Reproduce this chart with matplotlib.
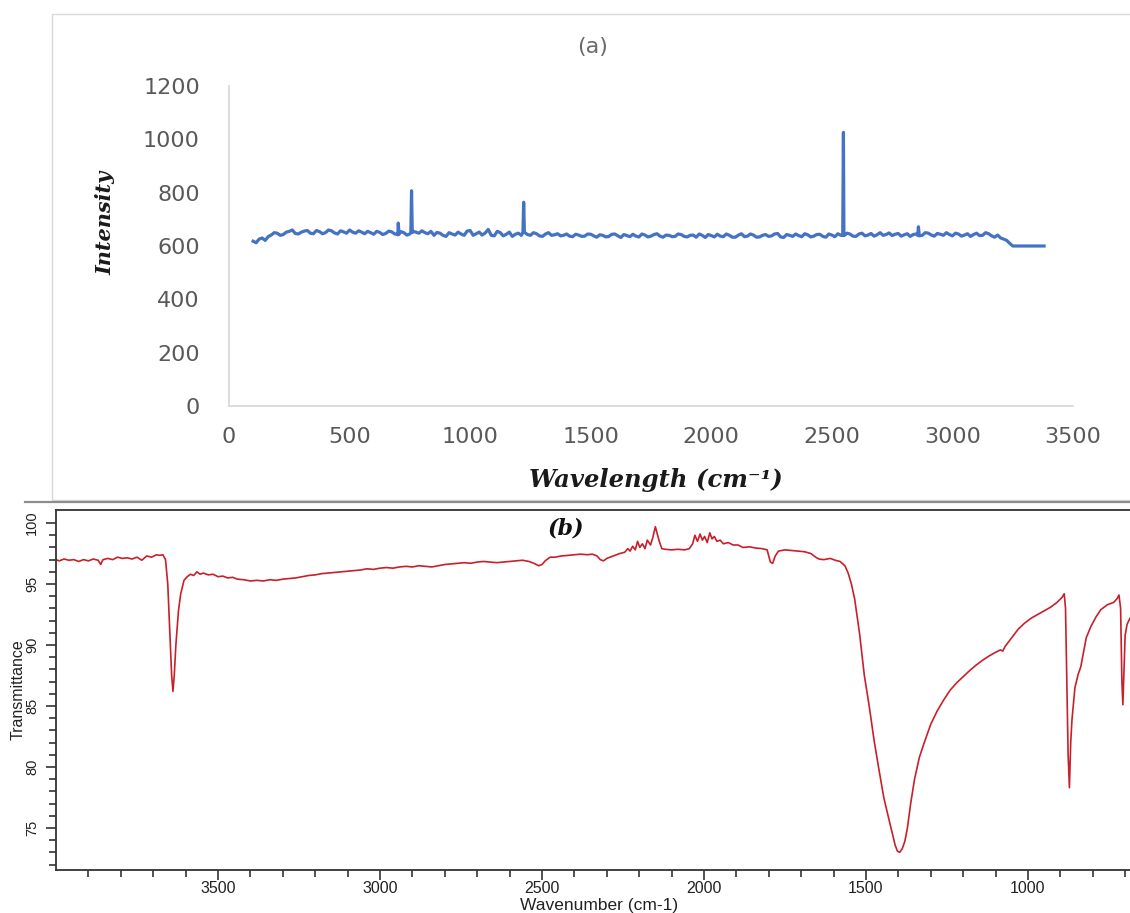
import numpy as np
import matplotlib
matplotlib.use("Agg")
import matplotlib.pyplot as plt
from matplotlib.patches import Rectangle
from matplotlib.lines import Line2D

# ---- (a) Raman-type spectrum ----
# values every 25 cm-1 starting at 100
raman_base = [618, 626, 621, 641, 648, 643, 655, 647, 652, 658,
              646, 654, 650, 657, 645, 653, 660, 648, 652, 655,
              644, 651, 647, 653, 642, 650, 645, 652, 657, 646,
              640, 648, 636, 645, 652, 640, 658, 646, 641, 662,
              638, 650, 644, 636, 648, 655, 640, 646, 636, 650,
              642, 638, 645, 635, 641, 637, 644, 633, 640, 636,
              645, 632, 639, 644, 634, 641, 637, 646, 633, 640,
              636, 643, 634, 641, 645, 632, 639, 644, 635, 640,
              633, 646, 637, 641, 634, 643, 638, 647, 632, 640,
              645, 635, 642, 637, 644, 633, 641, 646, 639, 645,
              636, 648, 641, 637, 650, 643, 639, 647, 642, 636,
              645, 640, 648, 637, 644, 650, 638, 645, 641, 636,
              648, 640, 646, 633, 630, 621]
# values half way between (112.5, 137.5, ...)
raman_mid = [612, 630, 635, 650, 640, 652, 660, 645, 656, 648,
             658, 646, 660, 649, 657, 648, 652, 657, 646, 650,
             655, 643, 656, 645, 654, 641, 655, 648, 650, 655,
             651, 640, 650, 641, 645, 656, 640, 652, 649, 640,
             655, 638, 652, 644, 640, 643, 650, 638, 645, 640,
             646, 640, 637, 644, 636, 645, 638, 642, 634, 644,
             638, 643, 635, 637, 645, 634, 643, 637, 641, 635,
             645, 636, 640, 633, 640, 643, 634, 637, 645, 633,
             641, 635, 645, 633, 640, 636, 645, 634, 643, 636,
             639, 646, 634, 643, 636, 645, 635, 640, 648, 637,
             645, 638, 647, 642, 640, 649, 644, 637, 646, 643,
             638, 650, 641, 647, 640, 643, 648, 637, 646, 643,
             639, 650, 638, 641, 626, 610]
raman_start, raman_step = 100, 25
spike_pos = [702, 757, 1222, 2548, 2859]
spike_val = [686, 807, 764, 1026, 672]
tail_pos = [3250, 3380]
tail_val = [600, 600]

# ---- (b) FTIR transmittance ----
ir_wn = [4000, 3990, 3975, 3960, 3945, 3930, 3915, 3900, 3885, 3870,
         3862, 3855, 3840, 3825, 3810, 3795, 3780, 3765, 3750, 3735,
         3720, 3705, 3690, 3680, 3670, 3662, 3655, 3648, 3643, 3639,
         3635, 3630, 3622, 3615, 3605, 3595, 3585, 3575, 3565, 3555,
         3545, 3530, 3515, 3500, 3485, 3470, 3455, 3440, 3420, 3400,
         3380, 3360, 3340, 3320, 3300, 3280, 3260, 3240, 3220, 3200,
         3180, 3160, 3140, 3120, 3100, 3080, 3060, 3040, 3020, 3000,
         2980, 2960, 2940, 2920, 2900, 2880, 2860, 2840, 2820, 2800,
         2780, 2760, 2740, 2720, 2700, 2680, 2660, 2640, 2620, 2600,
         2580, 2560, 2540, 2525, 2510, 2500, 2490, 2475, 2460, 2440,
         2420, 2400, 2380, 2360, 2345, 2330, 2320, 2310, 2300, 2280,
         2260, 2245, 2235, 2228, 2220, 2212, 2205, 2198, 2190, 2182,
         2175, 2165, 2158, 2150, 2145, 2138, 2130, 2120, 2100, 2080,
         2060, 2045, 2035, 2028, 2020, 2012, 2005, 1998, 1990, 1982,
         1975, 1968, 1960, 1950, 1940, 1925, 1910, 1895, 1880, 1860,
         1840, 1820, 1805, 1795, 1788, 1780, 1770, 1750, 1730, 1710,
         1690, 1670, 1655, 1645, 1630, 1610, 1595, 1580, 1565, 1555,
         1545, 1535, 1520, 1505, 1490, 1475, 1460, 1445, 1430, 1418,
         1410, 1403, 1396, 1388, 1380, 1372, 1362, 1350, 1335, 1320,
         1300, 1280, 1260, 1240, 1220, 1200, 1180, 1160, 1140, 1120,
         1100, 1085, 1078, 1070, 1050, 1030, 1010, 990, 970, 950,
         930, 910, 895, 888, 884, 880, 876, 872, 868, 864,
         855, 845, 837, 820, 806, 790, 775, 755, 735, 725,
         719, 714, 710, 707, 704, 700, 694, 685, 680]
ir_t = [97.0, 96.9, 97.05, 96.95, 97.0, 96.85, 97.0, 96.9, 97.05, 96.95,
        96.6, 97.0, 97.1, 97.0, 97.2, 97.1, 97.15, 97.05, 97.2, 96.95,
        97.3, 97.2, 97.4, 97.35, 97.4, 97.0, 95.0, 90.5, 87.5, 86.2,
        87.5, 90.0, 92.8, 94.2, 95.3, 95.6, 95.8, 95.7, 96.0, 95.8,
        95.9, 95.75, 95.8, 95.6, 95.65, 95.5, 95.55, 95.4, 95.35, 95.25,
        95.3, 95.25, 95.35, 95.3, 95.4, 95.45, 95.5, 95.6, 95.7, 95.75,
        95.85, 95.9, 95.95, 96.0, 96.05, 96.1, 96.15, 96.25, 96.2, 96.3,
        96.35, 96.3, 96.4, 96.45, 96.4, 96.5, 96.45, 96.4, 96.5, 96.6,
        96.65, 96.7, 96.75, 96.7, 96.8, 96.85, 96.8, 96.75, 96.8, 96.85,
        96.9, 96.95, 96.85, 96.7, 96.5, 96.6, 96.9, 97.2, 97.2, 97.3,
        97.35, 97.4, 97.45, 97.4, 97.45, 97.3, 97.0, 96.9, 97.1, 97.3,
        97.5, 97.6, 97.9, 97.7, 98.1, 97.8, 98.5, 98.0, 98.3, 97.9,
        98.6, 98.2, 98.8, 99.7, 99.2, 98.5, 97.9, 97.85, 97.8, 97.85,
        97.8, 97.9, 98.3, 99.0, 98.5, 99.1, 98.6, 98.9, 98.4, 99.2,
        98.7, 98.9, 98.5, 98.6, 98.3, 98.4, 98.2, 98.2, 98.0, 98.05,
        97.95, 97.9, 97.8, 96.8, 96.7, 97.3, 97.7, 97.8, 97.75, 97.7,
        97.65, 97.5, 97.2, 97.05, 97.0, 97.1, 96.95, 96.85, 96.5, 95.9,
        95.0, 93.8, 91.0, 87.5, 85.0, 82.2, 79.8, 77.5, 75.8, 74.5,
        73.6, 73.1, 73.0, 73.3, 73.9, 75.0, 77.0, 79.0, 80.8, 82.0,
        83.5, 84.6, 85.5, 86.3, 86.9, 87.4, 87.9, 88.35, 88.75, 89.1,
        89.4, 89.6, 89.5, 89.9, 90.6, 91.3, 91.8, 92.2, 92.5, 92.8,
        93.1, 93.5, 93.9, 94.2, 93.0, 87.0, 81.0, 78.3, 82.0, 83.9,
        86.5, 87.6, 88.2, 90.6, 91.5, 92.3, 92.9, 93.3, 93.5, 93.8,
        94.1, 93.0, 87.0, 85.1, 87.5, 90.8, 91.7, 92.2, 92.3]

W, H = 1130, 913
fig = plt.figure(figsize=(W / 100, H / 100), dpi=100)


def fx(px):
    return px / W


def fy(py):
    return 1 - py / H


# frame around panel (a)
fig.patches.append(Rectangle((fx(52), fy(500)), 1.0, fy(14) - fy(500),
                             transform=fig.transFigure, fill=False,
                             edgecolor="#d9d9d9", lw=1.0))
fig.lines.append(Line2D([fx(25), 1.0], [fy(502), fy(502)],
                        transform=fig.transFigure, color="#8c8c8c", lw=1.6))

# ---------------- panel (a) ----------------
ax1 = fig.add_axes([fx(229), fy(406), fx(1073) - fx(229), fy(86) - fy(406)])
bx = (raman_start + raman_step * np.arange(len(raman_base))).astype(float)
mx = bx[:len(raman_mid)] + raman_step / 2
px = np.concatenate([bx, mx])
py = np.concatenate([raman_base, raman_mid]).astype(float)
o = np.argsort(px)
px, py = px[o], py[o]
sx, sy = [], []
for p, v in zip(spike_pos, spike_val):
    b = np.interp(p, px, py)
    sx += [p - 3, p, p + 3]
    sy += [b, v, b]
allx = np.concatenate([px, sx])
ally = np.concatenate([py, sy])
o = np.argsort(allx)
allx = np.concatenate([allx[o], tail_pos])
ally = np.concatenate([ally[o], tail_val])
ax1.plot(allx, ally, color="#4472c4", lw=2.3, solid_joinstyle="round")
ax1.set_xlim(0, 3500)
ax1.set_ylim(0, 1200)
ax1.set_xticks(np.arange(0, 3501, 500))
ax1.set_yticks(np.arange(0, 1201, 200))
for s in ["top", "right"]:
    ax1.spines[s].set_visible(False)
for s in ["left", "bottom"]:
    ax1.spines[s].set_color("#d9d9d9")
    ax1.spines[s].set_linewidth(1.3)
ax1.tick_params(axis="both", length=0, labelsize=16, labelcolor="#595959")
ax1.tick_params(axis="y", pad=21)
ax1.tick_params(axis="x", pad=15)

fig.text(fx(593), fy(47), "(a)", ha="center", va="center", fontsize=16,
         color="#6a6a6a")
fig.text(fx(105), fy(223), "Intensity", rotation=90, ha="center", va="center",
         fontsize=15, family="DejaVu Serif", style="italic", weight="bold",
         color="#1a1a1a")
fig.text(fx(656), fy(480), "Wavelength (cm\u207b\u00b9)", ha="center", va="center",
         fontsize=17.5, family="DejaVu Serif", style="italic", weight="bold",
         color="#1a1a1a")

# ---------------- panel (b) ----------------
ax2 = fig.add_axes([fx(56), fy(870), 1.0 - fx(56), fy(510) - fy(870)])
ax2.plot(ir_wn, ir_t, color="#c8202a", lw=1.2)
ax2.set_xlim(4000, 685)
ax2.set_ylim(71.55, 101.07)
ax2.set_xticks(np.arange(1000, 3501, 500))
ax2.set_xticks(np.arange(700, 4000, 100), minor=True)
ax2.set_yticks(np.arange(75, 101, 5))
ax2.set_yticks(np.arange(72, 101, 1), minor=True)
ax2.spines["right"].set_visible(False)
for s in ["top", "left", "bottom"]:
    ax2.spines[s].set_color("#333333")
    ax2.spines[s].set_linewidth(1.3)
ax2.tick_params(axis="both", which="major", length=7, width=1.2,
                color="#333333", direction="out")
ax2.tick_params(axis="both", which="minor", length=5, width=1.2,
                color="#333333", direction="out")
ax2.tick_params(axis="x", which="major", labelsize=11.5, pad=1)
ax2.tick_params(axis="y", which="major", labelsize=10.5, pad=5)
for lab in ax2.get_xticklabels() + ax2.get_yticklabels():
    lab.set_family("Liberation Sans")
    lab.set_color("#222222")
for lab in ax2.get_yticklabels():
    lab.set_rotation(90)
    lab.set_va("center")

fig.text(fx(566), fy(528), "(b)", ha="center", va="center", fontsize=16,
         family="DejaVu Serif", style="italic", weight="bold", color="#111111")
fig.text(fx(18), fy(690), "Transmittance", rotation=90, ha="center",
         va="center", fontsize=11.5, family="Liberation Sans", color="#222222")
fig.text(fx(599), fy(905), "Wavenumber (cm-1)", ha="center", va="center",
         fontsize=12.5, family="Liberation Sans", color="#222222")

fig.savefig("out.png", dpi=100)
